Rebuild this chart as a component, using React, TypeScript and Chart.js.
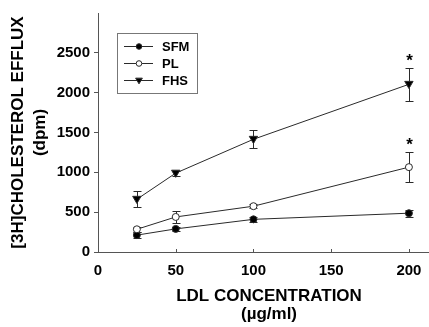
import React, { useEffect, useRef } from "react";
import { Chart, registerables } from "chart.js";

Chart.register(...registerables);

const concentrations = [25, 50, 100, 200];
const seriesNames = ["SFM", "PL", "FHS"];
const sfmValues = [212, 290, 410, 487];
const sfmErrors = [35, 30, 30, 45];
const plValues = [285, 440, 575, 1065];
const plErrors = [30, 75, 25, 190];
const fhsValues = [662, 990, 1415, 2105];
const fhsErrors = [100, 30, 115, 210];
const plMarks = ["", "", "", "*"];
const fhsMarks = ["", "", "", "*"];
const yTickValues = [0, 500, 1000, 1500, 2000, 2500];
const xTickValues = [0, 50, 100, 150, 200];

const FONT = "'Liberation Sans', Arial, sans-serif";
const INK = "#2a2a2a";

const errorsByDataset = [sfmErrors, plErrors, fhsErrors];
const marksByDataset = [null, plMarks, fhsMarks];

function drawMarker(ctx: CanvasRenderingContext2D, style: string, x: number, y: number, r: number, fill: string, rot: number) {
  ctx.save();
  ctx.beginPath();
  if (style === "circle") {
    ctx.arc(x, y, r, 0, Math.PI * 2);
  } else {
    const s = r * 1.2;
    if (rot === 180) {
      ctx.moveTo(x - s, y - s * 0.7);
      ctx.lineTo(x + s, y - s * 0.7);
      ctx.lineTo(x, y + s * 1.0);
    } else {
      ctx.moveTo(x - s, y + s * 0.7);
      ctx.lineTo(x + s, y + s * 0.7);
      ctx.lineTo(x, y - s);
    }
    ctx.closePath();
  }
  ctx.fillStyle = fill;
  ctx.fill();
  ctx.lineWidth = 1;
  ctx.strokeStyle = INK;
  ctx.stroke();
  ctx.restore();
}

const extrasPlugin = {
  id: "extras",
  afterDatasetsDraw(chart: any) {
    const ctx: CanvasRenderingContext2D = chart.ctx;
    const xs = chart.scales.x;
    const ys = chart.scales.y;
    ctx.save();
    // error bars
    chart.data.datasets.forEach((ds: any, di: number) => {
      const errs = errorsByDataset[di];
      ds.data.forEach((v: number, i: number) => {
        const x = Math.round(xs.getPixelForValue(concentrations[i])) + 0.5;
        const yt = Math.round(ys.getPixelForValue(v + errs[i])) + 0.5;
        const yb = Math.round(ys.getPixelForValue(v - errs[i])) + 0.5;
        ctx.strokeStyle = INK;
        ctx.lineWidth = 1;
        ctx.beginPath();
        ctx.moveTo(x, yt);
        ctx.lineTo(x, yb);
        ctx.moveTo(x - 4, yt);
        ctx.lineTo(x + 4, yt);
        ctx.moveTo(x - 4, yb);
        ctx.lineTo(x + 4, yb);
        ctx.stroke();
        const marks = marksByDataset[di];
        if (marks && marks[i]) {
          ctx.fillStyle = "#000";
          ctx.font = `bold 17px ${FONT}`;
          ctx.textAlign = "center";
          ctx.textBaseline = "alphabetic";
          ctx.fillText(marks[i], x, yt - 3);
        }
      });
    });
    // markers on top of lines and error bars
    chart.data.datasets.forEach((ds: any) => {
      ds.data.forEach((v: number, i: number) => {
        const x = xs.getPixelForValue(concentrations[i]);
        const y = ys.getPixelForValue(v);
        drawMarker(ctx, ds.markerStyle, x, y, ds.markerRadius, ds.markerFill, ds.markerRotation);
      });
    });
    // inward x ticks
    ctx.strokeStyle = "#555";
    ctx.lineWidth = 1;
    xTickValues.forEach((t) => {
      const x = Math.round(xs.getPixelForValue(t)) + 0.5;
      ctx.beginPath();
      ctx.moveTo(x, chart.chartArea.bottom);
      ctx.lineTo(x, chart.chartArea.bottom - 3);
      ctx.stroke();
    });
    // legend box
    const bx = 117, by = 33, bw = 80, bh = 60;
    ctx.fillStyle = "#fff";
    ctx.fillRect(bx, by, bw, bh);
    ctx.strokeStyle = "#777";
    ctx.strokeRect(bx + 0.5, by + 0.5, bw, bh);
    const rows = [46, 63, 80];
    chart.data.datasets.forEach((ds: any, di: number) => {
      const y = rows[di];
      ctx.strokeStyle = INK;
      ctx.beginPath();
      ctx.moveTo(124, y + 0.5);
      ctx.lineTo(153, y + 0.5);
      ctx.stroke();
      drawMarker(ctx, ds.markerStyle, 139, y + 0.5, ds.markerRadius * 0.8, ds.markerFill, ds.markerRotation);
      ctx.fillStyle = "#000";
      ctx.font = `bold 13px ${FONT}`;
      ctx.textAlign = "left";
      ctx.textBaseline = "middle";
      ctx.fillText(ds.label, 162, y + 1);
    });
    ctx.restore();
  },
};

export default function App() {
  const ref = useRef<HTMLCanvasElement | null>(null);
  useEffect(() => {
    document.body.style.margin = "0";
    const canvas = ref.current!;
    const mk = (label: string, data: number[], style: string, radius: number, fill: string, rotation: number) =>
      ({
        label,
        data,
        borderColor: INK,
        borderWidth: 1,
        pointRadius: 0,
        pointHoverRadius: 0,
        markerStyle: style,
        markerRadius: radius,
        markerFill: fill,
        markerRotation: rotation,
      } as any);
    const chart = new Chart(canvas, {
      type: "line",
      data: {
        labels: concentrations,
        datasets: [
          mk(seriesNames[0], sfmValues, "circle", 3.5, "#000", 0),
          mk(seriesNames[1], plValues, "circle", 3.5, "#fff", 0),
          mk(seriesNames[2], fhsValues, "triangle", 3.5, "#000", 180),
        ],
      },
      options: {
        animation: false,
        responsive: false,
        devicePixelRatio: 1,
        layout: { padding: { top: 13, right: 1, left: 0, bottom: 0 } },
        plugins: { legend: { display: false }, tooltip: { enabled: false } },
        elements: { line: { tension: 0 } },
        scales: {
          x: {
            type: "linear",
            min: 0,
            max: 220,
            afterBuildTicks: (s: any) => {
              s.ticks = xTickValues.map((v) => ({ value: v }));
            },
            afterFit: (s: any) => {
              s.height = 75;
            },
            border: { color: "#555", width: 1 },
            grid: { display: true, drawOnChartArea: false, drawTicks: false },
            ticks: {
              color: "#000",
              padding: 10,
              font: { family: FONT, size: 15, weight: "bold" },
              maxRotation: 0,
              callback: (v: any) => String(v),
            },
            title: {
              display: true,
              text: ["LDL CONCENTRATION", "(\u00b5g/ml)"],
              color: "#000",
              font: { family: FONT, size: 17, weight: "bold", lineHeight: 1.1 },
              padding: { top: 0, bottom: 3 },
            },
          },
          y: {
            type: "linear",
            min: 0,
            max: 3000,
            afterBuildTicks: (s: any) => {
              s.ticks = yTickValues.map((v) => ({ value: v }));
            },
            afterFit: (s: any) => {
              s.width = 98;
            },
            border: { color: "#555", width: 1 },
            grid: { display: true, drawOnChartArea: false, drawTicks: true, tickLength: 4, color: "#555" },
            ticks: {
              color: "#000",
              padding: 4,
              font: { family: FONT, size: 15, weight: "bold" },
              callback: (v: any) => String(v),
            },
            title: {
              display: true,
              text: ["[3H]CHOLESTEROL EFFLUX", "(dpm)"],
              color: "#000",
              font: { family: FONT, size: 17, weight: "bold", lineHeight: 1.25 },
              padding: { top: 8, bottom: 0 },
            },
          },
        },
      } as any,
      plugins: [extrasPlugin],
    });
    return () => chart.destroy();
  }, []);
  return (
    <div style={{ position: "fixed", left: 0, top: 0, width: 429, height: 327, overflow: "hidden", background: "#fff" }}>
      <canvas ref={ref} width={441} height={327} style={{ display: "block" }} />
    </div>
  );
}
